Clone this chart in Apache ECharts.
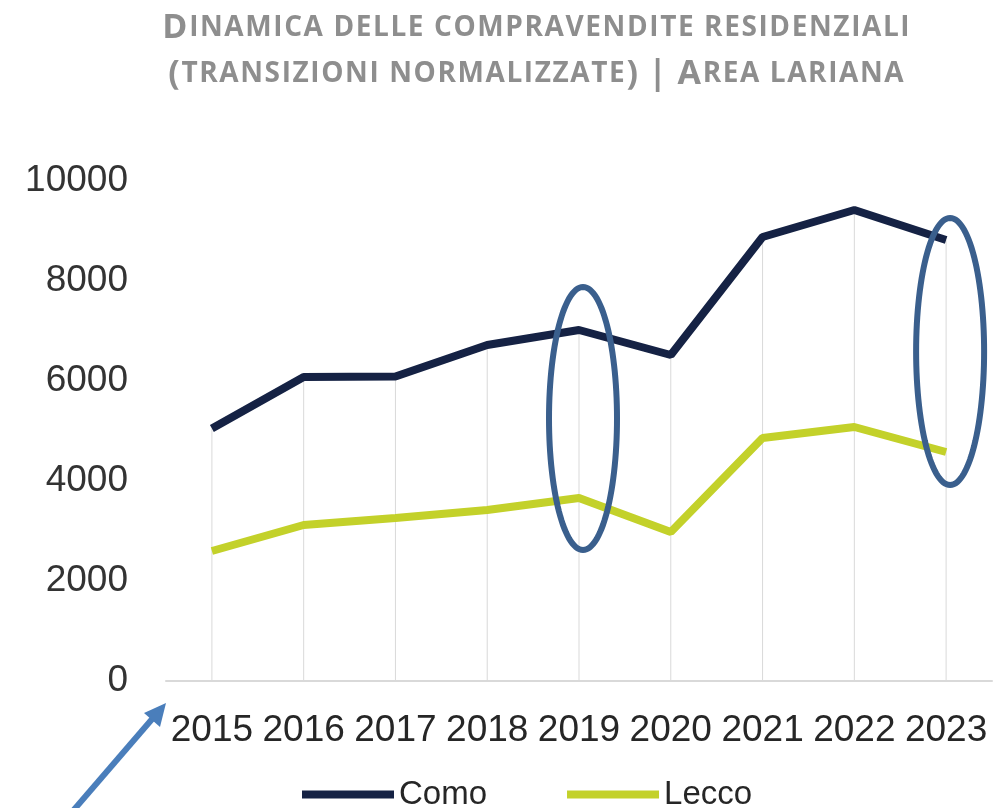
<!DOCTYPE html>
<html>
<head>
<meta charset="utf-8">
<script src="https://cdn.jsdelivr.net/npm/echarts@6/dist/echarts.min.js"></script>
<style>
    html, body { margin: 0; padding: 0; background: #fff; }
    #main { width: 1003px; height: 808px; }
</style>
</head>
<body>
<div id="main"></div>
<script>
    var years = ['2015', '2016', '2017', '2018', '2019', '2020', '2021', '2022', '2023'];
    var como = [5050, 6080, 6090, 6720, 7020, 6520, 8880, 9420, 8820];
    var lecco = [2600, 3120, 3260, 3420, 3660, 2980, 4860, 5080, 4580];
    var yTicks = [0, 2000, 4000, 6000, 8000, 10000];
    // cerchi di evidenza: anno, valore basso, valore alto
    var highlightYears = ['2019', '2023'];
    var highlightRange = [[2620, 7880], [3920, 9260]];
    // titolo: maiuscole = lettere grandi, minuscole = maiuscoletto
    var titleLines = ['Dinamica delle compravendite residenziali', '(transizioni normalizzate) | Area lariana'];

    var font = 'Liberation Sans, Arial, sans-serif';
    var titleFont = 'Open Sans, DejaVu Sans, sans-serif';
    var myChart = echarts.init(document.getElementById('main'));

    // maiuscoletto con spaziatura lettere, un token rich per carattere
    function smallCaps(line) {
        var out = '';
        for (var i = 0; i < line.length; i++) {
            var c = line.charAt(i);
            if (c === ' ') {
                out += '{s|\u00a0}';
            } else if (c === c.toLowerCase() && c !== c.toUpperCase()) {
                out += '{s|' + c.toUpperCase() + '}';
            } else {
                out += '{b|' + c + '}';
            }
        }
        return out;
    }

    var option = {
        animation: false,
        title: {
            left: 531,
            top: 0,
            textAlign: 'center',
            text: titleLines.map(smallCaps).join('\n'),
            textStyle: {
                color: '#8a8a8a',
                fontFamily: titleFont,
                fontWeight: 'bold',
                lineHeight: 46,
                rich: {
                    b: { fontSize: 34, fontWeight: 'bold', color: '#8e8e8e', fontFamily: titleFont, lineHeight: 46, padding: [0, 0.8] },
                    s: { fontSize: 28, fontWeight: 'bold', color: '#8e8e8e', fontFamily: titleFont, lineHeight: 46, padding: [0, 0.8] }
                }
            }
        },
        legend: {
            data: ['Como', 'Lecco'],
            left: 297,
            top: 773,
            icon: 'rect',
            itemWidth: 92,
            itemHeight: 8,
            itemGap: 80,
            textStyle: { fontSize: 33, color: '#262626', fontFamily: font }
        },
        grid: {
            left: 166,
            right: 11,
            top: 181,
            bottom: 127
        },
        xAxis: {
            type: 'category',
            data: years,
            boundaryGap: true,
            axisLine: { lineStyle: { color: '#d9d9d9', width: 2 } },
            axisTick: { show: false },
            axisLabel: { fontSize: 37, color: '#262626', fontFamily: font, margin: 31, interval: 0 }
        },
        yAxis: {
            type: 'value',
            min: yTicks[0],
            max: yTicks[yTicks.length - 1],
            interval: 2000,
            axisLine: { show: false },
            axisTick: { show: false },
            splitLine: { show: false },
            axisLabel: {
                fontSize: 37, color: '#333', fontFamily: font, margin: 38,
                formatter: function (v) { return String(v); }
            }
        },
        series: [
            {
                // linee di proiezione verticali
                name: 'drop',
                type: 'bar',
                data: como,
                barWidth: 1,
                itemStyle: { color: '#d9d9d9' },
                silent: true,
                z: 1
            },
            {
                name: 'Como',
                type: 'line',
                data: como,
                symbol: 'none',
                lineStyle: { color: '#152244', width: 8 },
                itemStyle: { color: '#152244' },
                z: 3
            },
            {
                name: 'Lecco',
                type: 'line',
                data: lecco,
                symbol: 'none',
                lineStyle: { color: '#c3d12a', width: 8 },
                itemStyle: { color: '#c3d12a' },
                z: 3
            }
        ]
    };

    myChart.setOption(option);

    // ellissi e freccia
    var graphics = [];
    for (var i = 0; i < highlightYears.length; i++) {
        var pTop = myChart.convertToPixel({ gridIndex: 0 }, [highlightYears[i], highlightRange[i][1]]);
        var pBot = myChart.convertToPixel({ gridIndex: 0 }, [highlightYears[i], highlightRange[i][0]]);
        var cx = pTop[0] + 4, cy = (pTop[1] + pBot[1]) / 2, ry = (pBot[1] - pTop[1]) / 2, rx = 34;
        var pts = [];
        for (var k = 0; k < 120; k++) {
            var a = k / 120 * Math.PI * 2;
            pts.push([cx + rx * Math.cos(a), cy + ry * Math.sin(a)]);
        }
        graphics.push({
            type: 'polygon',
            z: 10,
            shape: { points: pts },
            style: { fill: 'none', stroke: '#3a5f8d', lineWidth: 6 }
        });
    }
    graphics.push({
        type: 'line',
        z: 10,
        shape: { x1: 72, y1: 812, x2: 153, y2: 718 },
        style: { stroke: '#4a7ebb', lineWidth: 6 }
    });
    graphics.push({
        type: 'polygon',
        z: 10,
        shape: { points: [[166, 703], [160, 727], [144, 713]] },
        style: { fill: '#4a7ebb' }
    });
    myChart.setOption({ graphic: graphics });
</script>
</body>
</html>
